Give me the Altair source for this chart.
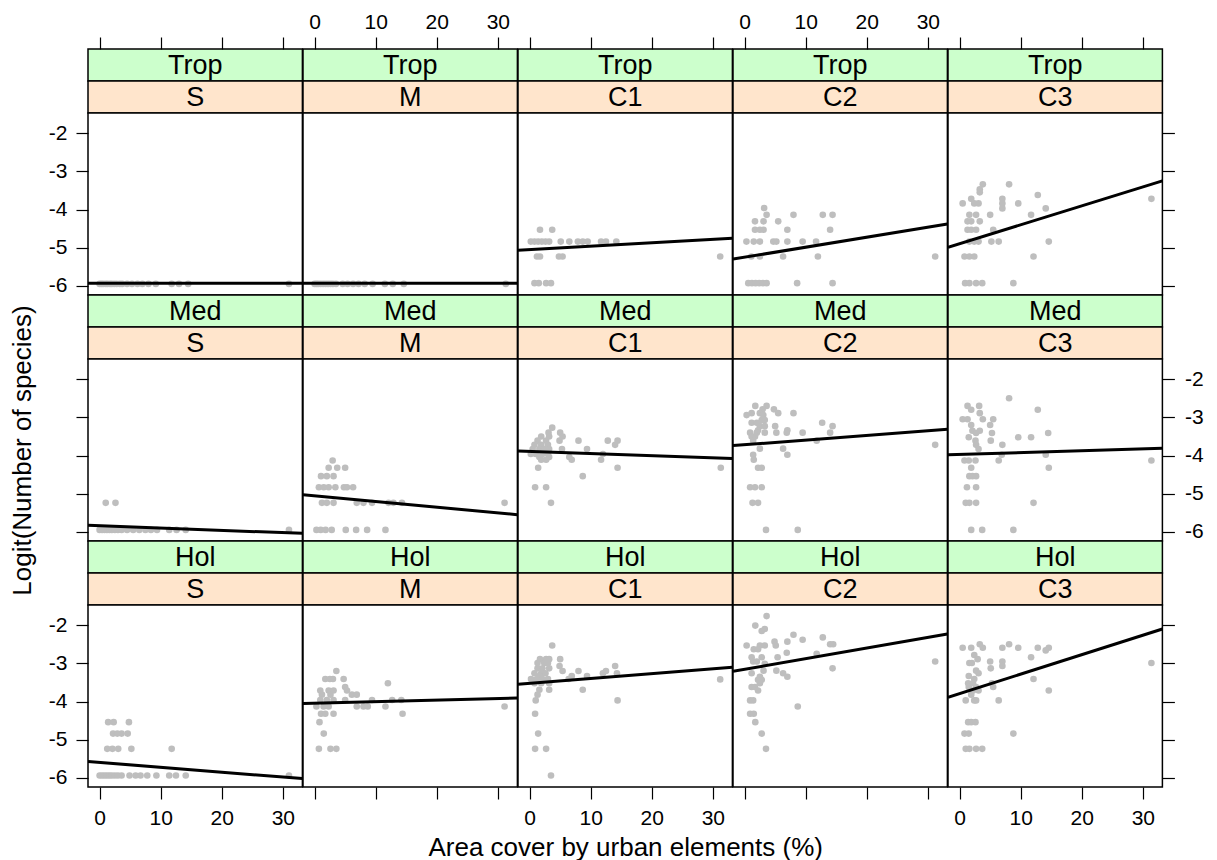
import altair as alt
import pandas as pd

# ---------------- data ----------------
REGIONS = ["Trop", "Med", "Hol"]
SIZES = ["S", "M", "C1", "C2", "C3"]

X_DOMAIN = [-1.9, 33.2]
Y_DOMAIN = [-6.24, -1.47]
X_TICKS = [0, 10, 20, 30]
Y_TICKS = [-6, -5, -4, -3, -2]

# points, [x, y] per panel
trop_s = [[0, -5.95], [0.3, -5.95], [0.6, -5.95], [1.0, -5.95], [1.3, -5.95], [1.7, -5.95],
          [2.0, -5.95], [2.4, -5.95], [2.8, -5.95], [3.3, -5.95], [3.7, -5.95], [4.5, -5.95],
          [5.3, -5.95], [6.2, -5.95], [7.0, -5.95], [8.0, -5.95], [9.2, -5.95], [11.8, -5.95],
          [13.0, -5.95], [14.5, -5.95], [31.0, -5.95]]
trop_m = [[0, -5.95], [0.3, -5.95], [0.6, -5.95], [1.0, -5.95], [1.4, -5.95], [1.8, -5.95],
          [2.2, -5.95], [2.6, -5.95], [3.0, -5.95], [3.5, -5.95], [4.6, -5.95], [5.4, -5.95],
          [6.3, -5.95], [7.2, -5.95], [8.2, -5.95], [9.5, -5.95], [11.5, -5.95], [12.8, -5.95],
          [14.6, -5.95], [31.3, -5.95]]
trop_c1 = [[1.7, -4.53], [3.7, -4.53],
           [0.2, -4.84], [0.8, -4.84], [1.4, -4.84], [2.0, -4.84], [2.6, -4.84], [3.2, -4.84],
           [5.1, -4.84], [6.5, -4.84], [7.9, -4.84], [8.7, -4.84], [9.5, -4.84], [11.7, -4.84],
           [12.5, -4.84], [14.2, -4.84],
           [1.2, -5.23], [1.7, -5.23], [4.8, -5.23], [5.4, -5.23], [31.2, -5.23],
           [0.8, -5.93], [1.5, -5.93], [2.7, -5.93], [3.5, -5.93]]
trop_c2 = [[3.2, -3.96],
           [3.6, -4.14], [8.0, -4.14], [12.8, -4.14], [14.4, -4.14],
           [1.7, -4.31], [3.1, -4.31], [5.5, -4.31],
           [1.7, -4.53], [2.5, -4.53], [3.1, -4.53], [7.0, -4.53], [14.0, -4.53],
           [0.3, -4.84], [1.5, -4.84], [2.5, -4.84], [4.7, -4.84], [5.2, -4.84], [7.0, -4.84],
           [9.5, -4.84], [11.7, -4.84],
           [1.1, -5.23], [2.5, -5.23], [6.3, -5.23], [12.0, -5.23], [31.2, -5.23],
           [0.6, -5.93], [1.2, -5.93], [1.8, -5.93], [2.4, -5.93], [3.0, -5.93], [3.6, -5.93],
           [8.6, -5.93], [14.4, -5.93]]
trop_c3 = [[3.8, -3.34], [8.1, -3.34],
           [3.3, -3.47], [3.3, -3.55], [12.8, -3.62],
           [1.9, -3.72], [7.0, -3.72], [31.4, -3.72],
           [0.5, -3.84], [2.4, -3.84], [3.1, -3.84], [7.0, -3.84], [9.6, -3.84],
           [7.0, -3.97], [14.1, -3.97],
           [1.6, -4.14], [2.7, -4.14], [5.0, -4.14], [11.7, -4.14],
           [1.3, -4.31], [1.9, -4.31], [3.3, -4.31],
           [1.3, -4.53], [1.9, -4.53], [2.7, -4.53], [5.5, -4.53],
           [1.6, -4.84], [2.4, -4.84], [3.1, -4.84], [5.2, -4.84], [6.4, -4.84], [14.6, -4.84],
           [0.8, -5.23], [1.6, -5.23], [2.4, -5.23], [12.1, -5.23],
           [0.9, -5.93], [1.6, -5.93], [2.7, -5.93], [3.7, -5.93], [8.8, -5.93]]
med_s = [[1.0, -5.24], [2.6, -5.24],
         [0, -5.95], [0.4, -5.95], [0.8, -5.95], [1.2, -5.95], [1.6, -5.95], [2.0, -5.95],
         [2.5, -5.95], [3.0, -5.95], [3.6, -5.95], [4.5, -5.95], [5.5, -5.95], [6.5, -5.95],
         [7.5, -5.95], [8.4, -5.95], [9.4, -5.95], [11.4, -5.95], [12.6, -5.95], [14.1, -5.95],
         [31.0, -5.95]]
med_m = [[2.95, -4.13],
         [2.3, -4.32], [3.7, -4.32], [5.0, -4.32],
         [1.05, -4.54], [2.0, -4.54], [3.1, -4.54],
         [0.7, -4.83], [1.5, -4.83], [2.3, -4.83], [3.4, -4.83], [4.8, -4.83], [5.3, -4.83],
         [6.3, -4.83],
         [1.2, -5.24], [2.0, -5.24], [3.1, -5.24], [6.9, -5.24], [8.0, -5.24], [9.4, -5.24],
         [12.1, -5.24], [12.9, -5.24], [14.3, -5.24], [31.1, -5.24],
         [0.3, -5.95], [1.0, -5.95], [1.8, -5.95], [2.8, -5.95], [5.1, -5.95], [6.8, -5.95],
         [8.6, -5.95], [11.6, -5.95]]
med_c1 = [[3.7, -3.27],
          [3.1, -3.40], [5.0, -3.40],
          [1.9, -3.50], [3.2, -3.50], [5.4, -3.50],
          [1.3, -3.61], [2.7, -3.61], [4.9, -3.61], [8.0, -3.61], [12.8, -3.61], [14.4, -3.61],
          [0.8, -3.72], [1.9, -3.72], [3.0, -3.72], [14.0, -3.72],
          [0.5, -3.83], [1.6, -3.83], [2.4, -3.83], [3.2, -3.83], [5.3, -3.83], [9.4, -3.83],
          [0.2, -3.96], [1.0, -3.96], [2.1, -3.96], [3.0, -3.96], [12.0, -3.96],
          [1.6, -4.04], [3.2, -4.04], [6.5, -4.04],
          [1.9, -4.11], [2.7, -4.11], [6.9, -4.11], [11.7, -4.11],
          [1.4, -4.32], [14.4, -4.32], [31.3, -4.32],
          [8.7, -4.54],
          [0.9, -4.83], [2.7, -4.83],
          [3.5, -5.24]]
med_c2 = [[1.75, -2.70], [3.6, -2.70],
          [2.95, -2.79], [4.8, -2.79],
          [1.15, -2.89], [2.5, -2.89], [5.5, -2.89], [8.0, -2.89],
          [0.33, -2.94], [3.06, -2.94],
          [2.8, -3.07], [3.3, -3.07],
          [1.15, -3.14], [2.0, -3.14], [12.7, -3.14],
          [2.5, -3.23], [3.3, -3.23], [5.0, -3.23], [14.4, -3.23],
          [2.2, -3.34], [7.0, -3.34],
          [0.9, -3.40], [2.0, -3.40], [3.3, -3.40], [5.2, -3.40], [6.9, -3.40], [9.5, -3.40],
          [14.0, -3.40],
          [1.15, -3.50], [1.7, -3.50],
          [1.4, -3.61], [11.8, -3.61],
          [31.2, -3.72],
          [2.5, -3.82], [6.3, -3.82],
          [1.4, -3.98], [7.0, -3.98],
          [1.5, -4.11],
          [2.2, -4.32], [2.8, -4.32],
          [0.9, -4.83], [1.7, -4.83], [2.8, -4.83],
          [1.3, -5.24], [2.2, -5.24],
          [3.5, -5.95], [8.7, -5.95]]
med_c3 = [[8.1, -2.50],
          [1.3, -2.70], [3.2, -2.70],
          [1.9, -2.80], [12.8, -2.80],
          [3.3, -2.89],
          [0.5, -3.05], [1.3, -3.05], [3.8, -3.05], [5.5, -3.05],
          [1.9, -3.20], [5.0, -3.20],
          [2.1, -3.35], [3.3, -3.35],
          [2.7, -3.41], [5.3, -3.41], [14.5, -3.41],
          [1.5, -3.52], [9.6, -3.52], [11.7, -3.52],
          [2.6, -3.61], [5.1, -3.61],
          [2.7, -3.72], [7.0, -3.72],
          [3.1, -3.83],
          [6.9, -3.98], [14.1, -3.98],
          [0.8, -4.13], [1.5, -4.13], [2.6, -4.13], [6.4, -4.13], [31.4, -4.13],
          [1.9, -4.32], [14.6, -4.32],
          [1.6, -4.54], [2.1, -4.54], [2.7, -4.54],
          [1.2, -4.83], [2.7, -4.83],
          [1.0, -5.24], [1.6, -5.24], [2.7, -5.24], [12.1, -5.24],
          [1.9, -5.95], [3.7, -5.95], [8.8, -5.95]]
hol_s = [[1.4, -4.54], [2.3, -4.54], [4.8, -4.54],
         [2.2, -4.84], [2.9, -4.84], [3.6, -4.84], [4.6, -4.84],
         [1.25, -5.24], [2.1, -5.24], [3.05, -5.24], [5.2, -5.24], [11.8, -5.24],
         [0, -5.94], [0.4, -5.94], [0.8, -5.94], [1.2, -5.94], [1.6, -5.94], [2.0, -5.94],
         [2.5, -5.94], [3.0, -5.94], [3.6, -5.94], [4.9, -5.94], [5.9, -5.94], [6.7, -5.94],
         [7.8, -5.94], [9.3, -5.94], [11.4, -5.94], [12.5, -5.94], [14.1, -5.94], [31.0, -5.94]]
hol_m = [[3.56, -3.20],
         [1.75, -3.41], [2.5, -3.41], [3.0, -3.41], [4.75, -3.41],
         [12.0, -3.52],
         [5.0, -3.62],
         [0.93, -3.71], [2.3, -3.71], [3.1, -3.71], [5.3, -3.71],
         [1.2, -3.82], [2.6, -3.82], [6.1, -3.82], [6.9, -3.82],
         [0.93, -3.96], [2.0, -3.96], [3.1, -3.96], [5.0, -3.96], [9.4, -3.96], [12.7, -3.96],
         [14.2, -3.96],
         [0.3, -4.13], [1.47, -4.13], [2.3, -4.13], [6.9, -4.13], [8.0, -4.13], [8.7, -4.13],
         [11.6, -4.13], [31.1, -4.13],
         [1.05, -4.32], [1.75, -4.32], [3.1, -4.32], [14.4, -4.32],
         [0.8, -4.54],
         [1.5, -4.84],
         [0.7, -5.24], [2.6, -5.24], [3.56, -5.24]]
hol_c1 = [[3.7, -2.53],
          [1.7, -2.89], [2.7, -2.89], [3.2, -2.89], [5.0, -2.89],
          [1.3, -2.99], [2.4, -2.99], [3.0, -2.99],
          [4.9, -3.07], [14.0, -3.07],
          [1.3, -3.13], [2.1, -3.13], [3.2, -3.13],
          [5.4, -3.20], [8.0, -3.20], [12.5, -3.20],
          [0.8, -3.26], [1.9, -3.26], [2.6, -3.26], [12.0, -3.26], [14.3, -3.26],
          [1.6, -3.33], [6.9, -3.33], [9.4, -3.33],
          [0.23, -3.41], [1.2, -3.41], [2.1, -3.41], [3.0, -3.41], [6.4, -3.41], [31.2, -3.42],
          [0.8, -3.52], [1.9, -3.52], [3.2, -3.52],
          [1.6, -3.69], [3.2, -3.69], [8.7, -3.69],
          [1.3, -3.82],
          [1.0, -3.97], [14.4, -3.97],
          [0.9, -4.32],
          [1.4, -4.84],
          [0.9, -5.24], [2.7, -5.24],
          [3.5, -5.94]]
hol_c2 = [[3.6, -1.76],
          [1.75, -2.01],
          [3.3, -2.10], [2.8, -2.15],
          [8.0, -2.25],
          [12.8, -2.32],
          [9.5, -2.38],
          [4.9, -2.43], [7.0, -2.43],
          [14.0, -2.50], [14.5, -2.50],
          [0.33, -2.53], [2.5, -2.53], [3.3, -2.53], [5.1, -2.53],
          [1.5, -2.63], [2.2, -2.63],
          [6.9, -2.72],
          [11.8, -2.75],
          [1.15, -2.84], [2.8, -2.84], [5.4, -2.84],
          [1.4, -2.95], [2.0, -2.95], [31.2, -2.95],
          [3.3, -3.01],
          [14.4, -3.13],
          [3.1, -3.19], [5.2, -3.19],
          [1.15, -3.26], [6.3, -3.26],
          [2.5, -3.35], [7.0, -3.35],
          [2.2, -3.43], [2.8, -3.43],
          [2.5, -3.52],
          [1.15, -3.62], [1.7, -3.62],
          [2.2, -3.71],
          [0.9, -3.97], [1.4, -3.97],
          [8.7, -4.13],
          [0.9, -4.32], [1.5, -4.32],
          [1.75, -4.54],
          [2.8, -4.84],
          [3.5, -5.24]]
hol_c3 = [[3.3, -2.50], [8.1, -2.50],
          [0.5, -2.59], [1.9, -2.59], [3.8, -2.59], [7.0, -2.59], [9.6, -2.59], [12.8, -2.59],
          [14.6, -2.59],
          [14.1, -2.66],
          [2.4, -2.78],
          [11.7, -2.84],
          [2.95, -2.89],
          [5.0, -2.95], [7.0, -2.95],
          [1.6, -2.99], [2.0, -2.99], [31.4, -2.99],
          [7.0, -3.07],
          [5.1, -3.13],
          [2.7, -3.19],
          [3.1, -3.26],
          [1.5, -3.33],
          [2.4, -3.41], [12.1, -3.41],
          [1.4, -3.52], [2.2, -3.52], [5.3, -3.52],
          [1.5, -3.62], [2.7, -3.62], [5.5, -3.62],
          [2.2, -3.71], [3.1, -3.71], [14.6, -3.71],
          [1.9, -3.82],
          [1.0, -3.97], [2.4, -3.97], [2.7, -3.97], [6.4, -3.97],
          [1.4, -4.54], [1.9, -4.54], [2.6, -4.54],
          [0.8, -4.84], [1.5, -4.84], [8.8, -4.84],
          [1.0, -5.24], [1.6, -5.24], [2.7, -5.24], [3.7, -5.24]]

PANEL_POINTS = [
    [trop_s, trop_m, trop_c1, trop_c2, trop_c3],
    [med_s, med_m, med_c1, med_c2, med_c3],
    [hol_s, hol_m, hol_c1, hol_c2, hol_c3],
]

# fitted line: value at left and right edge of each panel
LINE_LEFT = [[-5.93, -5.93, -5.07, -5.30, -4.99],
             [-5.83, -5.03, -3.88, -3.74, -3.98],
             [-5.57, -4.05, -3.55, -3.21, -3.89]]
LINE_RIGHT = [[-5.93, -5.93, -4.75, -4.38, -3.25],
              [-6.04, -5.55, -4.08, -3.31, -3.81],
              [-6.02, -3.91, -3.10, -2.23, -2.10]]

X_TITLE = "Area cover by urban elements (%)"
Y_TITLE = "Logit(Number of species)"

# ---------------- styling ----------------
FONT = "Liberation Sans"
PANEL_W = 214.4
PANEL_H = 182
STRIP_H = 32
GREEN = "#CCFFCC"
ORANGE = "#FFE5CC"
POINT_COLOR = "#BEBEBE"
BORDER = 1.5
TICK_FONT = 21
STRIP_FONT = 27
TITLE_FONT = 26

xscale = alt.Scale(domain=X_DOMAIN, nice=False, zero=False)
yscale = alt.Scale(domain=Y_DOMAIN, nice=False, zero=False)


def make_axis(orient, values, labels, title=None, label_pad=9, title_pad=8):
    kw = dict(orient=orient, values=values, labels=labels, domain=False, grid=False,
              ticks=True, tickSize=12, tickWidth=1.2, tickColor="black",
              labelFont=FONT, labelFontSize=TICK_FONT, labelColor="black", labelPadding=label_pad,
              labelFlush=False, labelOverlap=False, labelExpr="'' + datum.value",
              titleFont=FONT, titleFontSize=TITLE_FONT, titleFontWeight="normal",
              titleColor="black", titlePadding=title_pad)
    kw["title"] = title
    return alt.Axis(**kw)


def strip(label, fill, top_axis=None):
    df = pd.DataFrame({"label": [label]})
    enc = {"text": alt.Text("label:N")}
    if top_axis is not None:
        enc["x"] = alt.XDatum(15.65, type="quantitative", scale=xscale, axis=top_axis)
    return (
        alt.Chart(df)
        .mark_text(font=FONT, fontSize=STRIP_FONT, baseline="middle", align="center",
                   color="black", dy=1)
        .encode(**enc)
        .properties(width=PANEL_W, height=STRIP_H,
                    view=alt.ViewBackground(fill=fill, stroke="black", strokeWidth=BORDER))
    )


def panel(points, y_left, y_right, x_axis, y_axis):
    pts = pd.DataFrame(points, columns=["x", "y"])
    ln = pd.DataFrame({"x": X_DOMAIN, "y": [y_left, y_right]})
    p = alt.Chart(pts).mark_circle(size=44, color=POINT_COLOR, opacity=1, clip=True).encode(
        x=alt.X("x:Q", scale=xscale, axis=x_axis),
        y=alt.Y("y:Q", scale=yscale, axis=y_axis),
    )
    l = alt.Chart(ln).mark_line(color="black", strokeWidth=3, clip=True).encode(
        x=alt.X("x:Q", scale=xscale, axis=x_axis),
        y=alt.Y("y:Q", scale=yscale, axis=y_axis),
    )
    return alt.layer(p, l).properties(
        width=PANEL_W, height=PANEL_H,
        view=alt.ViewBackground(fill="white", stroke="black", strokeWidth=BORDER))


charts = []
for r, region in enumerate(REGIONS):
    # outer (green) strips
    for c in range(5):
        top_axis = None
        if r == 0:
            top_axis = make_axis("top", X_TICKS, labels=(c % 2 == 1), label_pad=5)
        charts.append(strip(region, GREEN, top_axis))
    # inner (orange) strips
    for c, size in enumerate(SIZES):
        charts.append(strip(size, ORANGE))
    # panels
    for c in range(5):
        x_axis = None
        if r == 2:
            x_axis = make_axis("bottom", X_TICKS, labels=(c % 2 == 0),
                               title=X_TITLE if c == 2 else None, label_pad=8, title_pad=6)
        y_axis = None
        if c == 0:
            y_axis = make_axis("left", Y_TICKS, labels=(r != 1),
                               title=Y_TITLE if r == 1 else None, label_pad=9, title_pad=40)
        elif c == 4:
            y_axis = make_axis("right", Y_TICKS, labels=(r == 1), label_pad=10)
        charts.append(panel(PANEL_POINTS[r][c], LINE_LEFT[r][c], LINE_RIGHT[r][c], x_axis, y_axis))

chart = alt.concat(*charts, columns=5, spacing=0, bounds="flush", align="each").properties(
    padding={"left": 0, "top": 2, "right": 5, "bottom": 0},
    background="white",
)

chart.save("out.html", embed_options={"renderer": "svg", "actions": False})
